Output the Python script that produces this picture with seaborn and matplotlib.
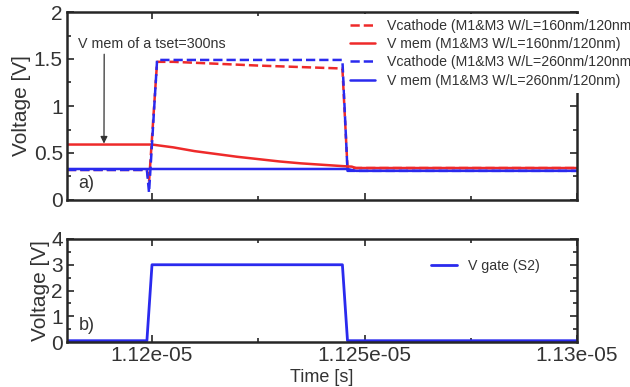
import numpy as np
import pandas as pd
import matplotlib
matplotlib.use("Agg")
import matplotlib.pyplot as plt
import seaborn as sns
from matplotlib.ticker import MultipleLocator, FormatStrFormatter

# time points in seconds, values in volts
t_cath_160 = [1.118e-5, 1.11988e-5, 1.11993e-5, 1.12012e-5, 1.1205e-5, 1.1225e-5, 1.1244e-5, 1.12448e-5, 1.1246e-5, 1.13e-5]
v_cath_160 = [0.32, 0.32, 0.19, 1.47, 1.47, 1.43, 1.40, 1.40, 0.34, 0.34]

t_mem_160 = [1.118e-5, 1.12e-5, 1.1205e-5, 1.121e-5, 1.1215e-5, 1.122e-5, 1.1225e-5, 1.123e-5, 1.1235e-5, 1.124e-5, 1.1245e-5, 1.1247e-5, 1.1248e-5, 1.13e-5]
v_mem_160 = [0.59, 0.59, 0.56, 0.52, 0.49, 0.46, 0.435, 0.41, 0.39, 0.375, 0.36, 0.355, 0.34, 0.34]

t_cath_260 = [1.118e-5, 1.11988e-5, 1.11993e-5, 1.12012e-5, 1.12448e-5, 1.1246e-5, 1.13e-5]
v_cath_260 = [0.32, 0.32, 0.08, 1.49, 1.49, 0.31, 0.31]

t_mem_260 = [1.118e-5, 1.1246e-5, 1.1248e-5, 1.13e-5]
v_mem_260 = [0.33, 0.33, 0.31, 0.31]

t_gate = [1.118e-5, 1.11988e-5, 1.12e-5, 1.12448e-5, 1.1246e-5, 1.13e-5]
v_gate = [0.05, 0.05, 3.0, 3.0, 0.05, 0.05]

labels = [
    "Vcathode (M1&M3 W/L=160nm/120nm",
    "V mem (M1&M3 W/L=160nm/120nm)",
    "Vcathode (M1&M3 W/L=260nm/120nm",
    "V mem (M1&M3 W/L=260nm/120nm)",
]

sns.set_style("ticks")
plt.rcParams["font.family"] = ["Liberation Sans", "DejaVu Sans"]

red = "#ee2a2a"
blue = "#2a2aee"
txt = "#333333"

fig = plt.figure(figsize=(6.3, 3.87), dpi=100)
ax1 = fig.add_axes([67 / 630, 1 - 200 / 387, 510 / 630, 188 / 387])
ax2 = fig.add_axes([67 / 630, 1 - 342 / 387, 510 / 630, 103 / 387])

series = [
    (t_cath_160, v_cath_160, red, "--", labels[0]),
    (t_mem_160, v_mem_160, red, "-", labels[1]),
    (t_cath_260, v_cath_260, blue, "--", labels[2]),
    (t_mem_260, v_mem_260, blue, "-", labels[3]),
]
for t, v, c, ls, lab in series:
    df = pd.DataFrame({"t": t, "v": v})
    sns.lineplot(data=df, x="t", y="v", ax=ax1, color=c, linestyle=ls, linewidth=1.8, label=lab, legend=False)

df_gate = pd.DataFrame({"t": t_gate, "v": v_gate})
sns.lineplot(data=df_gate, x="t", y="v", ax=ax2, color=blue, linewidth=2.0, label="V gate (S2)", legend=False)

for ax in (ax1, ax2):
    ax.set_xlim(1.118e-5, 1.13e-5)
    ax.xaxis.set_major_locator(MultipleLocator(5e-8))
    ax.xaxis.set_minor_locator(MultipleLocator(2.5e-8))
    ax.xaxis.set_major_formatter(FormatStrFormatter("%g"))
    ax.yaxis.set_major_formatter(FormatStrFormatter("%g"))
    ax.tick_params(which="both", direction="in", top=True, right=True, labelsize=15, width=1.2, pad=3,
                   labelcolor=txt)
    ax.tick_params(which="major", length=5)
    ax.tick_params(which="minor", length=3)
    for s in ax.spines.values():
        s.set_linewidth(1.8)
    ax.set_xlabel("")

ax1.set_ylim(0, 2)
ax1.yaxis.set_major_locator(MultipleLocator(0.5))
ax1.yaxis.set_minor_locator(MultipleLocator(0.25))
ax1.tick_params(labelbottom=False)
ax1.set_ylabel("Voltage [V]", fontsize=15, labelpad=2, color=txt)

ax2.set_ylim(0, 4)
ax2.yaxis.set_major_locator(MultipleLocator(1))
ax2.yaxis.set_minor_locator(MultipleLocator(0.5))
ax2.set_ylabel("Voltage [V]", fontsize=15, labelpad=1, color=txt)
ax2.set_xlabel("Time [s]", fontsize=13, labelpad=3, color=txt)

ax1.annotate("V mem of a tset=300ns", xy=(1.11887e-5, 0.6), xytext=(1.11825e-5, 1.66),
             fontsize=10.3, color=txt, va="center",
             arrowprops=dict(arrowstyle="-|>", color=txt, lw=0.9, shrinkA=0, shrinkB=0,
                             relpos=(0.18, 0.0)))
ax1.text(1.11826e-5, 0.18, "a)", fontsize=13, color=txt, va="center")
ax2.text(1.11828e-5, 0.65, "b)", fontsize=13, color=txt, va="center")

# legend box is opaque white and hides the top of the right spine
h, l = ax1.get_legend_handles_labels()
fig.legend(h, l, loc="upper left", bbox_to_anchor=(345 / 630, 1 - 14 / 387), frameon=True,
           facecolor="white", edgecolor="none", framealpha=1, fancybox=False,
           fontsize=10.2, handlelength=1.8, handletextpad=0.8, labelspacing=0.3,
           borderpad=0.35, borderaxespad=0, labelcolor=txt)
h2, l2 = ax2.get_legend_handles_labels()
fig.legend(h2, l2, loc="upper left", bbox_to_anchor=(431 / 630, 1 - 259 / 387), frameon=False,
           fontsize=10.2, handlelength=1.8, handletextpad=0.8, borderpad=0, borderaxespad=0,
           labelcolor=txt)

fig.savefig("out.png", dpi=100)
